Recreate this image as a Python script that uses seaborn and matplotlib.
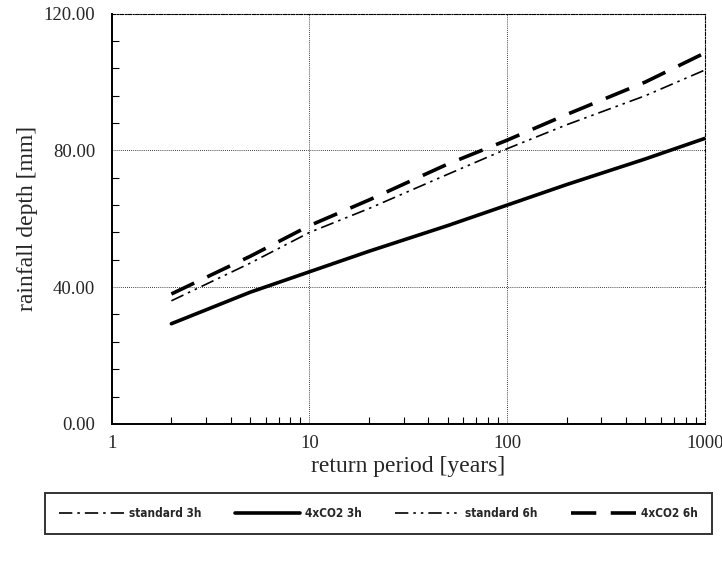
import matplotlib.pyplot as plt
import matplotlib.ticker as mticker
import numpy as np
import pandas as pd
import seaborn as sns

# return periods [years]
periodo = [2, 5, 10, 20, 50, 100, 200, 500, 1000]

# rainfall depth [mm]
standard_3h = [29.3, 38.5, 44.5, 50.5, 58.0, 64.0, 70.0, 77.5, 83.5]
co2_3h = [29.3, 38.5, 44.5, 50.5, 58.0, 64.0, 70.0, 77.5, 83.5]
standard_6h = [36.0, 47.0, 56.0, 63.0, 73.0, 80.5, 87.5, 96.0, 103.5]
co2_6h = [38.0, 49.0, 58.0, 65.5, 76.0, 83.0, 90.5, 100.0, 108.5]

series = ['standard 3h', '4xCO2 3h', 'standard 6h', '4xCO2 6h']
valores = [standard_3h, co2_3h, standard_6h, co2_6h]

estilos = {
    'standard 3h': dict(dashes=(8, 3, 1.5, 3), lw=1.2),
    '4xCO2 3h': dict(dashes=(None, None), lw=2.6),
    'standard 6h': dict(dashes=(8, 3, 1.5, 3, 1.5, 3), lw=1.2),
    '4xCO2 6h': dict(dashes=(7, 4), lw=2.6),
}

df = pd.DataFrame({
    'periodo': np.tile(periodo, len(series)),
    'valor': np.concatenate(valores),
    'serie': np.repeat(series, len(periodo)),
})

sns.set_style('white')
plt.rcParams['font.family'] = ['Liberation Serif', 'DejaVu Serif']

fig = plt.figure(figsize=(7.22, 5.72), dpi=100)
ax = fig.add_axes([0.155, 0.259, 0.821, 0.717])

handles = []
for nome in series:
    sub = df[df['serie'] == nome]
    est = estilos[nome]
    sns.lineplot(data=sub, x='periodo', y='valor', ax=ax, color='black',
                 lw=est['lw'], label=nome)
    linha = ax.get_lines()[-1]
    if est['dashes'][0] is not None:
        linha.set_dashes(est['dashes'])
    handles.append(linha)

ax.set_xscale('log')
ax.set_xlim(1, 1000)
ax.set_ylim(0, 120)
ax.xaxis.set_major_locator(mticker.FixedLocator([1, 10, 100, 1000]))
ax.xaxis.set_major_formatter(mticker.FuncFormatter(lambda v, p: f'{v:g}'))
ax.xaxis.set_minor_locator(mticker.LogLocator(base=10, subs=np.arange(2, 10)))
ax.xaxis.set_minor_formatter(mticker.NullFormatter())
ax.yaxis.set_major_locator(mticker.MultipleLocator(40))
ax.yaxis.set_minor_locator(mticker.MultipleLocator(8))
ax.yaxis.set_major_formatter(mticker.FormatStrFormatter('%.2f'))

ax.tick_params(which='both', direction='in', color='black',
               bottom=True, left=True, top=False, right=False)
ax.tick_params(which='major', length=0, labelsize=13.5)
ax.tick_params(which='minor', length=5, width=0.8)
ax.tick_params(axis='x', which='major', pad=8)
ax.tick_params(axis='y', which='major', pad=12)

ax.grid(True, which='major', color='black', ls=(0, (1, 1.5)), lw=0.6)

for lado in ['left', 'bottom']:
    ax.spines[lado].set_color('black')
    ax.spines[lado].set_linewidth(1.4)
for lado in ['top', 'right']:
    ax.spines[lado].set_color('black')
    ax.spines[lado].set_linewidth(0.8)
    ax.spines[lado].set_linestyle((0, (3, 1.5, 1, 1.5)))

ax.set_xlabel('return period [years]', fontsize=17, labelpad=3)
ax.set_ylabel('rainfall depth [mm]', fontsize=17, labelpad=4)
ax.get_legend().remove()

leg = fig.legend(handles, series, loc='lower left', ncol=4, mode='expand',
                 bbox_to_anchor=(0.062, 0.066, 0.924, 0.083),
                 frameon=True, fancybox=False, handlelength=5.5,
                 handletextpad=0.4,
                 prop={'family': 'DejaVu Sans', 'weight': 'bold',
                       'stretch': 'condensed', 'size': 8.5},
                 borderaxespad=0, borderpad=1.2)
leg.get_frame().set_edgecolor('black')
leg.get_frame().set_linewidth(1.4)

fig.savefig('out.png', dpi=100)
